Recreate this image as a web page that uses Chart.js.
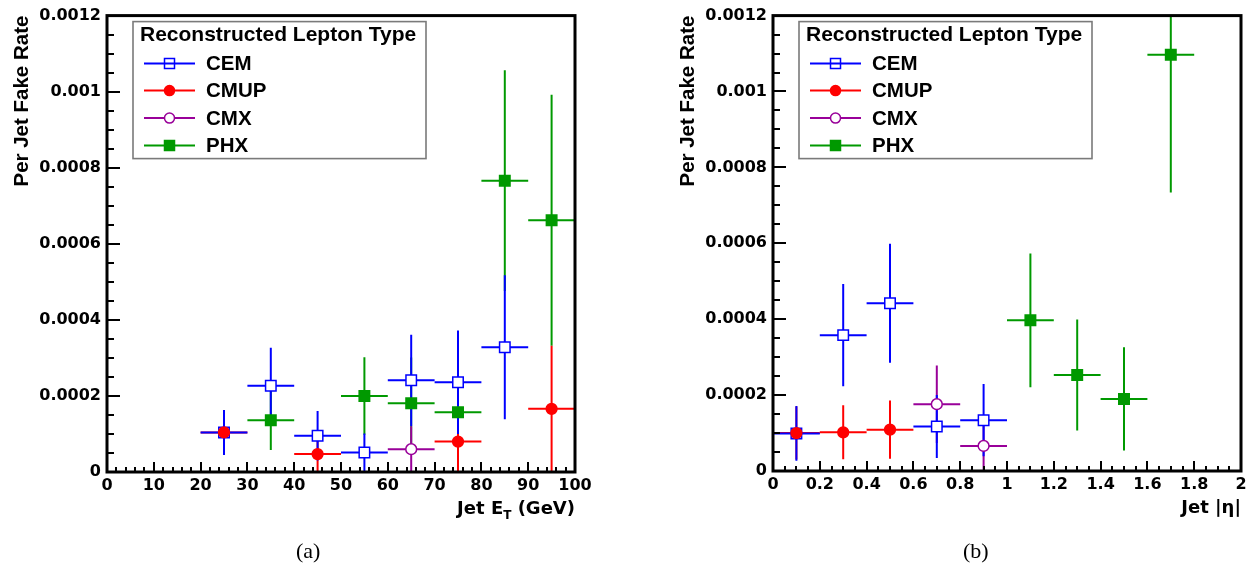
<!DOCTYPE html>
<html><head><meta charset="utf-8">
<script src="https://cdn.jsdelivr.net/npm/chart.js@4.4.0/dist/chart.umd.min.js"></script>
<style>
html,body{margin:0;padding:0;background:#fff;width:1253px;height:563px;overflow:hidden}
#c1{position:absolute;left:0;top:0}
#c2{position:absolute;left:626px;top:0}
.cap{position:absolute;top:540px;font-family:"Liberation Serif","DejaVu Serif",serif;font-size:22px;line-height:22px;color:#000}
</style></head><body>
<canvas id="c1" width="626" height="563"></canvas>
<canvas id="c2" width="627" height="563"></canvas>
<div class="cap" style="left:296px">(a)</div>
<div class="cap" style="left:963px">(b)</div>
<script>
// ---------- data: Jet ET ----------
const etXerr = 5;
const etCEMx   = [25, 35, 45, 55, 65, 75, 85];
const etCEMy   = [0.000104, 0.000227, 0.0000955, 0.000051, 0.000241, 0.000236, 0.000328];
const etCEMerr = [0.000059, 0.000100, 0.000065, 0.000050, 0.000120, 0.000136, 0.000189];
const etCMUPx   = [25, 45, 75, 95];
const etCMUPy   = [0.000104, 0.000047, 0.000080, 0.000166];
const etCMUPerr = [0.000055, 0.000047, 0.000080, 0.000166];
const etCMXx   = [65];
const etCMXy   = [0.000060];
const etCMXerr = [0.000060];
const etPHXx   = [35, 55, 65, 75, 85, 95];
const etPHXy   = [0.000136, 0.000200, 0.000181, 0.000157, 0.000766, 0.000662];
const etPHXerr = [0.000078, 0.000102, 0.000120, 0.000140, 0.000290, 0.000330];
// ---------- data: Jet |eta| ----------
const etaXerr = 0.1;
const etaCEMx   = [0.1, 0.3, 0.5, 0.7, 0.9];
const etaCEMy   = [0.000099, 0.000358, 0.000442, 0.000117, 0.000134];
const etaCEMerr = [0.000072, 0.000135, 0.000157, 0.000083, 0.000095];
const etaCMUPx   = [0.1, 0.3, 0.5];
const etaCMUPy   = [0.000100, 0.000102, 0.000109];
const etaCMUPerr = [0.000070, 0.000071, 0.000077];
const etaCMXx   = [0.7, 0.9];
const etaCMXy   = [0.000176, 0.000066];
const etaCMXerr = [0.000102, 0.000066];
const etaPHXx   = [1.1, 1.3, 1.5, 1.7];
const etaPHXy   = [0.000397, 0.000253, 0.000190, 0.001097];
const etaPHXerr = [0.000176, 0.000146, 0.000136, 0.000363];
// ---------- ticks / labels ----------
const yTickValues = [0, 0.0002, 0.0004, 0.0006, 0.0008, 0.001, 0.0012];
const yTickLabels = ['0', '0.0002', '0.0004', '0.0006', '0.0008', '0.001', '0.0012'];
const etTickValues = [0,10,20,30,40,50,60,70,80,90,100];
const etTickLabels = ['0','10','20','30','40','50','60','70','80','90','100'];
const etaTickValues = [0,0.2,0.4,0.6,0.8,1,1.2,1.4,1.6,1.8,2];
const etaTickLabels = ['0','0.2','0.4','0.6','0.8','1','1.2','1.4','1.6','1.8','2'];
const seriesNames = ['CEM', 'CMUP', 'CMX', 'PHX'];
const legendTitle = 'Reconstructed Lepton Type';
const yTitle = 'Per Jet Fake Rate';

const COLORS = ['#0000ff', '#ff0000', '#990099', '#009900'];
const STYLES = [
  {shape:'rect', filled:false},
  {shape:'circle', filled:true},
  {shape:'circle', filled:false},
  {shape:'rect', filled:true}
];
const ORDERS = [1, 0, 2, 3];

function makeDataset(i, xs, ys, errs, xerr) {
  const st = STYLES[i];
  return {
    label: seriesNames[i],
    data: xs.map((x, k) => ({x: x, y: ys[k]})),
    yErr: errs, xErr: xerr,
    showLine: false,
    pointStyle: st.shape,
    pointRadius: st.shape === 'rect' ? 7.4 : 5.4,
    pointHoverRadius: st.shape === 'rect' ? 7.4 : 5.4,
    pointBorderWidth: 1.5,
    pointBorderColor: COLORS[i],
    pointBackgroundColor: st.filled ? COLORS[i] : '#ffffff',
    borderColor: COLORS[i],
    backgroundColor: COLORS[i],
    order: ORDERS[i]
  };
}

function drawMarker(ctx, i, x, y, size) {
  const st = STYLES[i];
  ctx.save();
  ctx.lineWidth = 1.5;
  ctx.strokeStyle = COLORS[i];
  ctx.fillStyle = st.filled ? COLORS[i] : '#ffffff';
  ctx.beginPath();
  if (st.shape === 'rect') ctx.rect(x - size/2, y - size/2, size, size);
  else ctx.arc(x, y, size/2, 0, Math.PI*2);
  if (st.filled || st.shape === 'circle') ctx.fill();
  ctx.stroke();
  ctx.restore();
}

const rootPlugin = {
  id: 'rootStyle',
  beforeDatasetsDraw(chart) {
    const ctx = chart.ctx, a = chart.chartArea;
    const xs = chart.scales.x, ys = chart.scales.y;
    ctx.save();
    ctx.beginPath(); ctx.rect(a.left, a.top, a.right - a.left, a.bottom - a.top); ctx.clip();
    ctx.lineWidth = 2; ctx.lineCap = 'butt';
    const gap = 5;
    for (const i of [3, 2, 1, 0]) {
      const ds = chart.data.datasets[i];
      ctx.strokeStyle = ds.borderColor;
      ds.data.forEach((p, j) => {
        const px = xs.getPixelForValue(p.x), py = ys.getPixelForValue(p.y);
        const xl = xs.getPixelForValue(p.x - ds.xErr), xr = xs.getPixelForValue(p.x + ds.xErr);
        const yt = ys.getPixelForValue(p.y + ds.yErr[j]), yb = ys.getPixelForValue(p.y - ds.yErr[j]);
        ctx.beginPath();
        ctx.moveTo(xl, py); ctx.lineTo(px - gap, py);
        ctx.moveTo(px + gap, py); ctx.lineTo(xr, py);
        if (yt < py - gap) { ctx.moveTo(px, yt); ctx.lineTo(px, py - gap); }
        if (yb > py + gap) { ctx.moveTo(px, py + gap); ctx.lineTo(px, yb); }
        ctx.stroke();
      });
    }
    ctx.restore();
  },
  afterDatasetsDraw(chart, args, opts) {
    const ctx = chart.ctx, a = chart.chartArea;
    const xs = chart.scales.x, ys = chart.scales.y;
    ctx.save();
    // legend box
    const bx = a.left + 26, by = a.top + 6, bw = 293, bh = 137;
    ctx.fillStyle = '#ffffff';
    ctx.fillRect(bx, by, bw, bh);
    ctx.strokeStyle = '#7a7a7a'; ctx.lineWidth = 1.6;
    ctx.strokeRect(bx, by, bw, bh);
    ctx.fillStyle = '#000';
    ctx.font = 'bold 21px "Liberation Sans", Arial, sans-serif';
    ctx.textAlign = 'left'; ctx.textBaseline = 'middle';
    ctx.fillText(legendTitle, bx + 7, by + 14);
    ctx.font = 'bold 20.5px "Liberation Sans", Arial, sans-serif';
    const rowY = [42, 69, 96.5, 124];
    for (let i = 0; i < 4; i++) {
      const yy = by + rowY[i];
      ctx.strokeStyle = COLORS[i]; ctx.lineWidth = 2;
      ctx.beginPath(); ctx.moveTo(bx + 11, yy); ctx.lineTo(bx + 62, yy); ctx.stroke();
      drawMarker(ctx, i, bx + 36.5, yy, 10);
      ctx.fillStyle = '#000';
      ctx.fillText(seriesNames[i], bx + 73, yy + 1);
    }
    // ticks
    ctx.strokeStyle = '#000'; ctx.lineWidth = 2;
    ctx.beginPath();
    const yMinor = opts.yMinor, xMinor = opts.xMinor;
    for (let k = 0; k <= Math.round((ys.max - ys.min) / yMinor); k++) {
      const v = ys.min + k * yMinor;
      const py = Math.round(ys.getPixelForValue(v));
      const major = k % opts.yDiv === 0;
      ctx.moveTo(a.left, py); ctx.lineTo(a.left + (major ? 13 : 7), py);
    }
    for (let k = 0; k <= Math.round((xs.max - xs.min) / xMinor); k++) {
      const v = xs.min + k * xMinor;
      const px = Math.round(xs.getPixelForValue(v));
      const major = k % opts.xDiv === 0;
      ctx.moveTo(px, a.bottom); ctx.lineTo(px, a.bottom - (major ? 10 : 5));
    }
    ctx.stroke();
    // frame
    ctx.lineWidth = 3;
    ctx.strokeRect(a.left, a.top, a.right - a.left, a.bottom - a.top);
    // y title
    ctx.fillStyle = '#000';
    ctx.font = 'bold 20.5px "Liberation Sans", Arial, sans-serif';
    ctx.save();
    ctx.translate(a.left - 79, a.top);
    ctx.rotate(-Math.PI / 2);
    ctx.textAlign = 'right'; ctx.textBaseline = 'alphabetic';
    ctx.fillText(yTitle, 0, 0);
    ctx.restore();
    // x title (with subscript)
    const parts = opts.xTitle;
    const fMain = 'bold 18px "DejaVu Sans", sans-serif';
    const fSub = 'bold 12px "DejaVu Sans", sans-serif';
    let total = 0;
    parts.forEach(p => { ctx.font = p.sub ? fSub : fMain; total += ctx.measureText(p.t).width; });
    let x0 = a.right - total;
    const base = a.bottom + 42;
    ctx.textAlign = 'left'; ctx.textBaseline = 'alphabetic';
    parts.forEach(p => {
      ctx.font = p.sub ? fSub : fMain;
      ctx.fillText(p.t, x0, base + (p.sub ? 5 : 0));
      x0 += ctx.measureText(p.t).width;
    });
    ctx.restore();
  }
};

const tickFont = {family: '"DejaVu Sans", sans-serif', weight: 'bold', size: 16};

function buildChart(id, datasets, xMax, xTickValues, xTickLabels, yWidth, xHeight, pad, pluginOpts) {
  return new Chart(document.getElementById(id), {
    type: 'scatter',
    data: {datasets: datasets},
    plugins: [rootPlugin],
    options: {
      responsive: false, animation: false, events: [],
      devicePixelRatio: 1,
      layout: {padding: pad},
      plugins: {legend: {display: false}, tooltip: {enabled: false}, rootStyle: pluginOpts},
      scales: {
        x: {
          type: 'linear', min: 0, max: xMax,
          grid: {display: false, drawTicks: false}, border: {display: false},
          afterBuildTicks: s => { s.ticks = xTickValues.map(v => ({value: v})); },
          afterFit: s => { s.height = xHeight; },
          ticks: {font: tickFont, color: '#000', padding: 4, maxRotation: 0, autoSkip: false,
                  callback: (v, i) => xTickLabels[i]}
        },
        y: {
          type: 'linear', min: 0, max: 0.0012,
          grid: {display: false, drawTicks: false}, border: {display: false},
          afterBuildTicks: s => { s.ticks = yTickValues.map(v => ({value: v})); },
          afterFit: s => { s.width = yWidth; },
          ticks: {font: tickFont, color: '#000', padding: 6, autoSkip: false,
                  callback: (v, i) => yTickLabels[i]}
        }
      }
    }
  });
}

buildChart('c1', [
  makeDataset(0, etCEMx, etCEMy, etCEMerr, etXerr),
  makeDataset(1, etCMUPx, etCMUPy, etCMUPerr, etXerr),
  makeDataset(2, etCMXx, etCMXy, etCMXerr, etXerr),
  makeDataset(3, etPHXx, etPHXy, etPHXerr, etXerr)
], 100, etTickValues, etTickLabels, 107, 91, {top: 15, right: 51, left: 0, bottom: 0},
{xMinor: 2, xDiv: 5, yMinor: 0.00005, yDiv: 4,
 xTitle: [{t: 'Jet E'}, {t: 'T', sub: true}, {t: ' (GeV)'}]});

buildChart('c2', [
  makeDataset(0, etaCEMx, etaCEMy, etaCEMerr, etaXerr),
  makeDataset(1, etaCMUPx, etaCMUPy, etaCMUPerr, etaXerr),
  makeDataset(2, etaCMXx, etaCMXy, etaCMXerr, etaXerr),
  makeDataset(3, etaPHXx, etaPHXy, etaPHXerr, etaXerr)
], 2, etaTickValues, etaTickLabels, 147, 92, {top: 15, right: 12, left: 0, bottom: 0},
{xMinor: 0.05, xDiv: 4, yMinor: 0.00005, yDiv: 4,
 xTitle: [{t: 'Jet |η|'}]});
</script>
</body></html>
